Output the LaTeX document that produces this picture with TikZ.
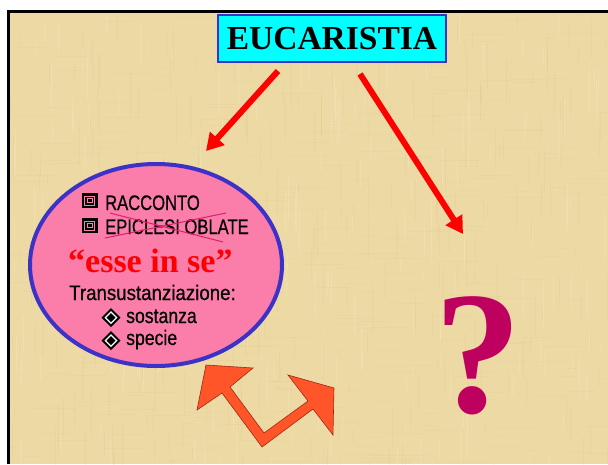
\documentclass[tikz,border=0pt]{standalone}
\usepackage{fontspec}
\setmainfont{Liberation Serif}
\newfontfamily\narrowcaps[FakeStretch=0.79,FakeBold=0.5]{Liberation Sans}
\newfontfamily\narrowlow[FakeStretch=0.84,FakeBold=0.5]{Liberation Sans}
\newfontfamily\narrowwide[FakeStretch=0.89,FakeBold=0.5]{Liberation Sans}
\usetikzlibrary{arrows.meta,shapes.geometric,calc}
\definecolor{parch}{RGB}{236,217,164}
\definecolor{parchdark}{RGB}{205,178,118}
\definecolor{parchlight}{RGB}{248,236,200}
\definecolor{boxcyan}{RGB}{0,255,255}
\definecolor{boxblue}{RGB}{60,50,200}
\definecolor{bubblepink}{RGB}{250,125,170}
\definecolor{strikepink}{RGB}{225,30,105}
\definecolor{qmag}{RGB}{190,0,95}
\definecolor{orangefill}{RGB}{255,85,40}
\definecolor{orangeedge}{RGB}{160,40,20}
\tikzset{
  redarrow/.style={draw=red, line width=6pt, -{Triangle[length=17pt,width=19pt]}},
  bodytxt/.style={inner sep=0pt, anchor=base west, font=\fontsize{21}{21}\selectfont},
  sqbullet/.style={fill=black, minimum width=16pt, minimum height=15pt, inner sep=0pt},
  strike/.style={draw=strikepink, line width=1pt},
}
\begin{document}
\begin{tikzpicture}[x=1pt,y=-1pt]
\useasboundingbox (0,0) rectangle (608,464);
% background
\fill[white] (0,0) rectangle (608,464);
\fill[parch] (8,11) rectangle (608,464);
\pgfmathsetseed{7}
\begin{scope}
\clip (8,11) rectangle (608,464);
\foreach \i in {1,...,300}{
  \pgfmathsetmacro\xx{8+600*rnd}
  \pgfmathsetmacro\yy{11+453*rnd}
  \pgfmathsetmacro\ll{8+40*rnd}
  \draw[parchdark, opacity=0.12, line width=0.6pt] (\xx,\yy) -- ++(0,\ll);
}
\foreach \i in {1,...,300}{
  \pgfmathsetmacro\xx{8+600*rnd}
  \pgfmathsetmacro\yy{11+453*rnd}
  \pgfmathsetmacro\ll{8+40*rnd}
  \draw[parchdark, opacity=0.10, line width=0.6pt] (\xx,\yy) -- ++(\ll,0);
}
\foreach \i in {1,...,200}{
  \pgfmathsetmacro\xx{8+600*rnd}
  \pgfmathsetmacro\yy{11+453*rnd}
  \pgfmathsetmacro\ll{8+40*rnd}
  \draw[parchlight, opacity=0.3, line width=0.8pt] (\xx,\yy) -- ++(0,\ll);
}
\end{scope}
\draw[black, line width=2.5pt] (8.5,464) -- (8.5,11.5) -- (608,11.5);

% title
\node[draw=boxblue, line width=2.5pt, fill=boxcyan, minimum width=228pt, minimum height=47pt, inner sep=0pt,
  font=\fontsize{33.5}{33.5}\selectfont\bfseries] (euc) at (332,38.5) {EUCARISTIA};

% red arrows
\coordinate (la) at (278,71);
\coordinate (lb) at (206,151);
\coordinate (ra) at (360,74);
\coordinate (rb) at (463,234);
\draw[redarrow] (la) -- (lb);
\draw[redarrow] (ra) -- (rb);

% bubble
\node[ellipse, draw=boxblue, line width=4pt, fill=bubblepink, minimum width=252pt, minimum height=202pt, inner sep=0pt] (bubble) at (156,265) {};

% square bullets
\node[sqbullet] (sq1) at (89.5,200.5) {};
\node[sqbullet] (sq2) at (89.5,225.5) {};
\foreach \c in {sq1,sq2}{
  \draw[bubblepink, line width=0.7pt] ($(\c)+(-5,-4.5)$) rectangle ($(\c)+(5,4.5)$);
  \draw[bubblepink, line width=0.7pt] ($(\c)+(-2.5,-2)$) rectangle ($(\c)+(2.5,2)$);
}
\node[bodytxt, font=\fontsize{21}{21}\selectfont\narrowcaps] (t1) at (105,210) {RACCONTO};
\node[bodytxt, font=\fontsize{21}{21}\selectfont\narrowcaps] (t2) at (105,234) {EPICLESI OBLATE};
\coordinate (s1a) at (105,238);
\coordinate (s1b) at (226,213);
\coordinate (s2a) at (110,213);
\coordinate (s2b) at (223,242);
\draw[strike] (s1a) -- (s1b);
\draw[strike] (s2a) -- (s2b);

\node[inner sep=0pt, anchor=base west, text=red, font=\fontsize{34}{34}\selectfont\bfseries] (esse) at (68,272) {“esse in se”};
\node[bodytxt, font=\fontsize{21}{21}\selectfont\narrowwide] (trans) at (69,300) {Transustanziazione:};

% diamond bullets
\foreach \n/\yy in {d1/317.5, d2/340.5}{
  \coordinate (\n) at (111,\yy);
  \fill[black] ($(\n)+(0,-9.5)$) -- ($(\n)+(9.5,0)$) -- ($(\n)+(0,9.5)$) -- ($(\n)+(-9.5,0)$) -- cycle;
  \fill[white] ($(\n)+(0,-6.5)$) -- ($(\n)+(6.5,0)$) -- ($(\n)+(0,6.5)$) -- ($(\n)+(-6.5,0)$) -- cycle;
  \fill[black] ($(\n)+(0,-4.5)$) -- ($(\n)+(4.5,0)$) -- ($(\n)+(0,4.5)$) -- ($(\n)+(-4.5,0)$) -- cycle;
}
\node[bodytxt, font=\fontsize{21}{21}\selectfont\narrowlow] (sost) at (126,323) {sostanza};
\node[bodytxt, font=\fontsize{21}{21}\selectfont\narrowlow] (spec) at (126,345) {specie};

% bent double arrow
\fill[orangefill, draw=orangeedge, line width=0.6pt, line join=miter]
  (206,365) -- (253,368) -- (230,387) -- (264,433) -- (308,401) -- (288,375) -- (334,388)
  -- (333,435) -- (313,409) -- (262,447) -- (222,393) -- (197,410) -- cycle;

% question mark
\node[inner sep=0pt, anchor=base, text=qmag, font=\fontsize{175}{175}\selectfont\bfseries] (qm) at (478,412) {?};
\end{tikzpicture}
\end{document}
